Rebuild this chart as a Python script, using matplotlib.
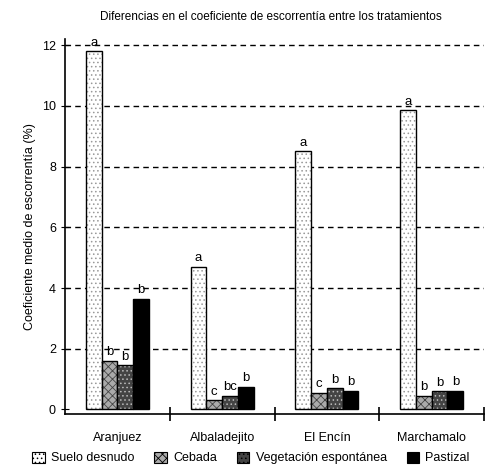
import numpy as np
import matplotlib.pyplot as plt
from matplotlib.patches import Patch

sites = ['Aranjuez', 'Albaladejito', 'El Encín', 'Marchamalo']
treatments = ['Suelo desnudo', 'Cebada', 'Vegetación espontánea', 'Pastizal']
suelo = [11.8, 4.7, 8.5, 9.85]
cebada = [1.6, 0.3, 0.55, 0.45]
vegetacion = [1.45, 0.45, 0.7, 0.6]
pastizal = [3.65, 0.75, 0.62, 0.62]
letters = [['a', 'b', 'b', 'b'],
           ['a', 'c', 'bc', 'b'],
           ['a', 'c', 'b', 'b'],
           ['a', 'b', 'b', 'b']]

plt.rcParams['font.family'] = ['Liberation Sans', 'DejaVu Sans']
plt.rcParams['hatch.linewidth'] = 0.6
fig = plt.figure(figsize=(4.92, 4.71), dpi=100)
ax = fig.add_axes([0.132, 0.121, 0.852, 0.796])

styles = [dict(facecolor='white', hatch='....', edgecolor='#999999'),
          dict(facecolor='#aaaaaa', hatch='xxxx', edgecolor='#444444'),
          dict(facecolor='#444444', hatch='....', edgecolor='#bbbbbb'),
          dict(facecolor='black', hatch='', edgecolor='black')]

x = np.arange(len(sites))
w = 0.15
series = [suelo, cebada, vegetacion, pastizal]
for i, vals in enumerate(series):
    pos = x + (i - 1.5) * w
    ax.bar(pos, vals, w, **styles[i], linewidth=0)
    ax.bar(pos, vals, w, facecolor='none', edgecolor='black', linewidth=1.0)
    for j, v in enumerate(vals):
        ax.text(pos[j], v + 0.08, letters[j][i], ha='center', va='bottom', fontsize=9.5)

for yv in range(2, 13, 2):
    ax.axhline(yv, color='black', linestyle=(0, (4, 3)), linewidth=1.0, zorder=0)

ax.set_xlim(-0.5, 3.5)
ax.set_ylim(-0.15, 12.2)
ax.set_yticks(range(0, 13, 2))
ax.set_xticks(np.arange(0.5, 4.0, 1.0))
ax.set_xticklabels([])
ax.set_xticks(x, minor=True)
ax.set_xticklabels(sites, minor=True, fontsize=9)
ax.tick_params(axis='x', which='minor', length=0, pad=13)
ax.tick_params(axis='x', which='major', direction='inout', length=10, width=1.2)
ax.tick_params(axis='y', direction='inout', length=6, labelsize=9)
ax.spines['top'].set_visible(False)
ax.spines['right'].set_visible(False)
ax.spines['left'].set_linewidth(1.2)
ax.spines['bottom'].set_linewidth(1.2)
ax.set_ylabel('Coeficiente medio de escorrentía (%)', fontsize=9)

fig.text(0.55, 0.958, 'Diferencias en el coeficiente de escorrentía entre los tratamientos',
         ha='center', fontsize=8.5)

handles = [Patch(**styles[i], linewidth=0.8) for i in range(4)]
for h in handles:
    h.set_edgecolor('black')
fig.legend(handles, treatments, loc='lower center', bbox_to_anchor=(0.51, -0.01),
           ncol=4, frameon=False, fontsize=9, handlelength=1.0, handleheight=1.0,
           columnspacing=1.6, handletextpad=0.5)

fig.savefig('out.png', dpi=100)
